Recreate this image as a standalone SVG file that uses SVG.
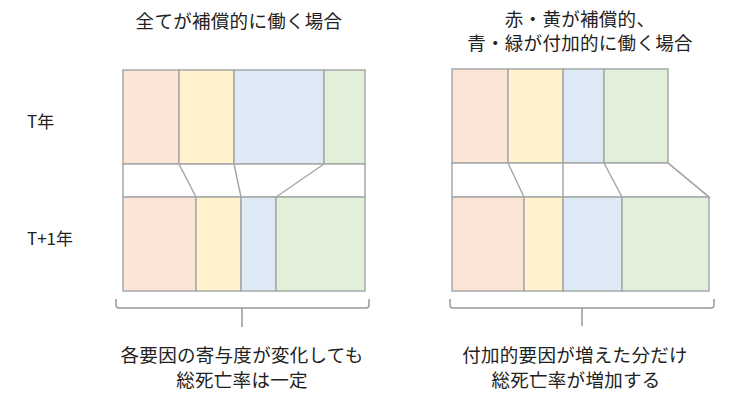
<svg xmlns="http://www.w3.org/2000/svg" width="737" height="393" viewBox="0 0 737 393">
<style>
.t{font-family:"Noto Sans CJK JP","Noto Sans",sans-serif;fill:#222;font-size:18.5px;text-anchor:middle;letter-spacing:0.3px}
.lbl{font-family:"Noto Sans CJK JP","Noto Sans",sans-serif;fill:#222;font-size:17px}
.box{stroke:#a8a8a8;stroke-width:1.5}
.r{fill:#fbe5d6}.y{fill:#fff2cc}.b{fill:#deebf7}.g{fill:#e2f0d9}.w{fill:#fff}
.ln{fill:none;stroke:#a8a8a8;stroke-width:1.5}
.br{fill:none;stroke:#999;stroke-width:1.5}
</style>
<rect width="737" height="393" fill="#fff"/>
<g id="titles">
<text class="t" x="239" y="28">全てが補償的に働く場合</text>
<text class="t" x="580" y="26">赤・黄が補償的、</text>
<text class="t" x="580" y="50">青・緑が付加的に働く場合</text>
</g>
<g id="year-labels">
<text class="lbl" x="27" y="128">T年</text>
<text class="lbl" x="27" y="245">T+1年</text>
</g>
<g id="left-T">
<rect class="box r" x="123" y="70" width="56" height="94"/>
<rect class="box y" x="179" y="70" width="55" height="94"/>
<rect class="box b" x="234" y="70" width="90" height="94"/>
<rect class="box g" x="324" y="70" width="41" height="94"/>
</g>
<g id="left-band">
<rect class="box w" x="123" y="164" width="242" height="33"/>
</g>
<g id="left-T1">
<rect class="box r" x="123" y="197" width="73" height="94"/>
<rect class="box y" x="196" y="197" width="45" height="94"/>
<rect class="box b" x="241" y="197" width="35" height="94"/>
<rect class="box g" x="276" y="197" width="89" height="94"/>
</g>
<g id="right-T">
<rect class="box r" x="452" y="69" width="56" height="94"/>
<rect class="box y" x="508" y="69" width="55" height="94"/>
<rect class="box b" x="563" y="69" width="41" height="94"/>
<rect class="box g" x="604" y="69" width="64" height="94"/>
</g>
<g id="right-band">
<polygon class="box w" points="452,163 668,163 709,197 452,197"/>
</g>
<g id="right-T1">
<rect class="box r" x="452" y="197" width="72" height="94"/>
<rect class="box y" x="524" y="197" width="39" height="94"/>
<rect class="box b" x="563" y="197" width="59" height="94"/>
<rect class="box g" x="622" y="197" width="87" height="94"/>
</g>
<g id="connectors">
<path class="ln" d="M179,164 L196,197 M234,164 L241,197 M324,164 L276,197"/>
<path class="ln" d="M508,163 L524,197 M563,163 L563,197 M604,163 L622,197 M668,163 L709,197"/>
</g>
<g id="braces">
<path class="br" d="M116,299 L116,305 Q116,308 119,308 L366,308 Q369,308 369,305 L369,299 M242,308 L242,327"/>
<path class="br" d="M450,299 L450,305 Q450,308 453,308 L711,308 Q714,308 714,305 L714,299 M582,308 L582,326"/>
</g>
<g id="captions">
<text class="t" x="242" y="362">各要因の寄与度が変化しても</text>
<text class="t" x="242" y="387">総死亡率は一定</text>
<text class="t" x="575" y="362">付加的要因が増えた分だけ</text>
<text class="t" x="576" y="387">総死亡率が増加する</text>
</g>
</svg>
